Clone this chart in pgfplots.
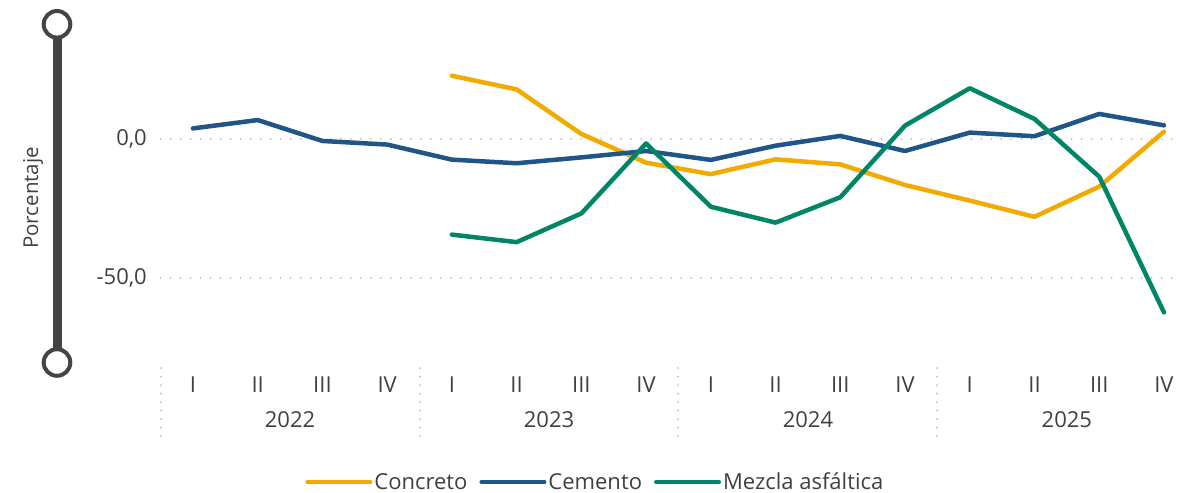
\documentclass[border=0pt]{standalone}
\usepackage{fontspec}
\setmainfont{Open Sans}
\usepackage{pgfplots}
\pgfplotsset{compat=1.18}
\definecolor{concreto}{RGB}{242,169,0}
\definecolor{cemento}{RGB}{31,85,135}
\definecolor{mezcla}{RGB}{0,134,102}
\definecolor{txt}{RGB}{64,64,64}
\definecolor{grid}{RGB}{190,190,190}
\definecolor{slider}{RGB}{68,68,68}
\tikzset{sep/.style={grid, line width=2bp, dash pattern=on 0.01bp off 8.5bp, line cap=round},
  yr/.style={anchor=base, inner sep=0pt, text=txt, font=\fontsize{22bp}{26bp}\selectfont}}
\begin{document}
\begin{tikzpicture}
\path[use as bounding box] (0,0) rectangle (1186bp,493bp);
% slider decoration
\draw[slider, line width=9bp] (57bp,468.7bp) -- (57bp,130.5bp);
\draw[slider, line width=4bp, fill=white] (57bp,468.7bp) circle (13.3bp);
\draw[slider, line width=4bp, fill=white] (57bp,130.5bp) circle (13.3bp);
\node[rotate=90, anchor=base, text=txt, font=\fontsize{20.5bp}{24bp}\selectfont, inner sep=0pt] at (38bp,295bp) {Porcentaje};
\begin{axis}[
  at={(160.6bp,131bp)}, anchor=south west,
  scale only axis, width=1016.3bp, height=337bp,
  xmin=-0.5, xmax=15.2, ymin=-80, ymax=40.9,
  axis line style={draw=none}, clip=false,
  ytick={-50,0}, yticklabels={{-50,0},{0,0}},
  xtick={0,...,15}, xticklabels={I,II,III,IV,I,II,III,IV,I,II,III,IV,I,II,III,IV},
  xmajorgrids=false, ymajorgrids=true,
  y grid style={grid, line width=2bp, dash pattern=on 0.01bp off 10bp, line cap=round},
  major tick length=0pt, xtick style={draw=none}, ytick style={draw=none},
  tick label style={text=txt, font=\fontsize{22bp}{26bp}\selectfont},
  yticklabel style={anchor=east, inner sep=0pt, xshift=-13.6bp},
  xticklabel style={anchor=base, inner sep=0pt, yshift=-30.7bp},
  legend style={draw=none, fill=none, at={(axis description cs:0.4278,-0.356)}, anchor=center,
    legend columns=3, font=\fontsize{22bp}{26bp}\selectfont, text=txt,
    /tikz/every even column/.append style={column sep=10bp},
    nodes={inner sep=2bp}},
  legend cell align=left,
  legend image code/.code={\draw[#1, line width=4bp, line cap=round] (0bp,0bp) -- (63bp,0bp);},
  every axis plot/.append style={line width=4.5bp, line join=round, line cap=round, mark=none},
]
\addplot[concreto] coordinates {(4,22.7) (5,17.8) (6,1.8) (7,-8.5) (8,-12.6) (9,-7.3) (10,-9.1) (11,-16.5) (12,-22.1) (13,-27.9) (14,-17.1) (15,2.6)};
\addlegendentry{Concreto}
\addplot[cemento] coordinates {(0,3.8) (1,6.8) (2,-0.7) (3,-2.0) (4,-7.4) (5,-8.7) (6,-6.6) (7,-4.3) (8,-7.5) (9,-2.4) (10,1.1) (11,-4.3) (12,2.3) (13,1.0) (14,9.0) (15,4.9)};
\addlegendentry{Cemento}
\addplot[mezcla] coordinates {(4,-34.3) (5,-37.0) (6,-26.7) (7,-1.6) (8,-24.3) (9,-30.0) (10,-20.9) (11,4.8) (12,18.2) (13,7.2) (14,-13.5) (15,-62.2)};
\addlegendentry{Mezcla asfáltica}
% year separators
\draw[sep] ([yshift=-6bp]axis cs:-0.5,-80) -- ([yshift=-77bp]axis cs:-0.5,-80);
\draw[sep] ([yshift=-6bp]axis cs:3.5,-80) -- ([yshift=-77bp]axis cs:3.5,-80);
\draw[sep] ([yshift=-6bp]axis cs:7.5,-80) -- ([yshift=-77bp]axis cs:7.5,-80);
\draw[sep] ([yshift=-6bp]axis cs:11.5,-80) -- ([yshift=-77bp]axis cs:11.5,-80);
\node[yr] at ([yshift=-65.3bp]axis cs:1.5,-80) {2022};
\node[yr] at ([yshift=-65.3bp]axis cs:5.5,-80) {2023};
\node[yr] at ([yshift=-65.3bp]axis cs:9.5,-80) {2024};
\node[yr] at ([yshift=-65.3bp]axis cs:13.5,-80) {2025};
\end{axis}
\end{tikzpicture}
\end{document}
